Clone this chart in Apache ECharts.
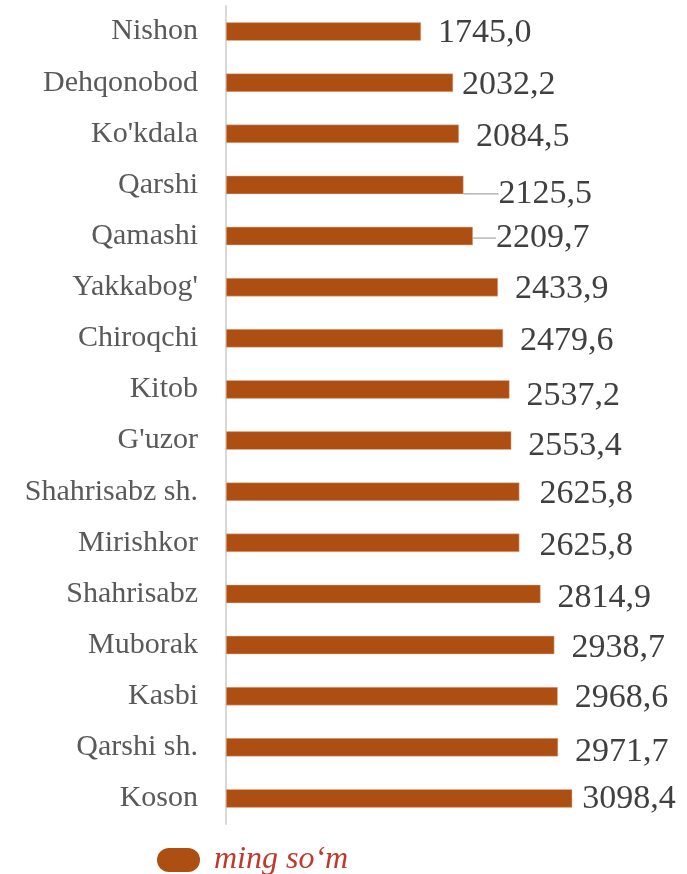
<!DOCTYPE html>
<html>
<head>
<meta charset="utf-8">
<script src="https://cdn.jsdelivr.net/npm/echarts@6/dist/echarts.min.js"></script>
<style>html,body{margin:0;padding:0;background:#fff}#c{width:687px;height:874px}</style>
</head>
<body>
<div id="c"></div>
<script>
var categories = ["Nishon","Dehqonobod","Ko'kdala","Qarshi","Qamashi","Yakkabog'","Chiroqchi","Kitob","G'uzor","Shahrisabz sh.","Mirishkor","Shahrisabz","Muborak","Kasbi","Qarshi sh.","Koson"];
var values = [1745.0,2032.2,2084.5,2125.5,2209.7,2433.9,2479.6,2537.2,2553.4,2625.8,2625.8,2814.9,2938.7,2968.6,2971.7,3098.4];
var seriesName = "ming so\u2018m";
// label nudges (dx, dy) per bar, in pixels
var labelNudge = [[0,2],[-8,2],[0,3],[18,9],[6,2],[0,2],[0,3],[0,7],[0,6],[3,2],[3,3],[0,4],[0,3],[0,2],[0,5],[-7,1]];
var leaderLineIdx = [3,4];

var barData = values.map(function(v,i){
  return leaderLineIdx.indexOf(i) >= 0 ? {value:v,labelLine:{show:true}} : v;
});

var chart = echarts.init(document.getElementById('c'), null, {renderer:'canvas'});
chart.setOption({
  animation:false,
  grid:{left:226,right:14,top:6,bottom:50,containLabel:false},
  legend:{
    top:839,left:152,
    itemWidth:43,itemHeight:24,itemGap:18,
    icon:'path://M12,0 L31,0 A12,12 0 0 1 31,24 L12,24 A12,12 0 0 1 12,0 Z',
    itemStyle:{borderWidth:0},
    textStyle:{fontFamily:'Liberation Serif',fontStyle:'italic',fontSize:32,lineHeight:32,color:'#C0392B',padding:[0,0,0,9]},
    data:[seriesName]
  },
  xAxis:{type:'value',min:0,max:4000,show:false},
  yAxis:{
    type:'category',inverse:true,data:categories,
    axisLine:{show:true,lineStyle:{color:'#D9D9D9',width:2}},
    axisTick:{show:false},
    axisLabel:{margin:28,fontFamily:'Liberation Serif',fontSize:30,color:'#595959',padding:[4,0,0,0]}
  },
  series:[{
    name:seriesName,type:'bar',data:barData,
    barCategoryGap:'64%',
    itemStyle:{color:'#AD4E13',borderColor:'#E8B89A',borderWidth:0.5},
    label:{show:true,position:'right',distance:17,fontFamily:'Liberation Serif',fontSize:34,color:'#404040',
      formatter:function(p){return p.value.toFixed(1).replace('.',',');}},
    labelLine:{show:false,lineStyle:{color:'#A6A6A6',width:1.2}},
    labelLayout:function(p){var n=labelNudge[p.dataIndex];return {dx:n[0],dy:n[1]};}
  }]
});
</script>
</body>
</html>
